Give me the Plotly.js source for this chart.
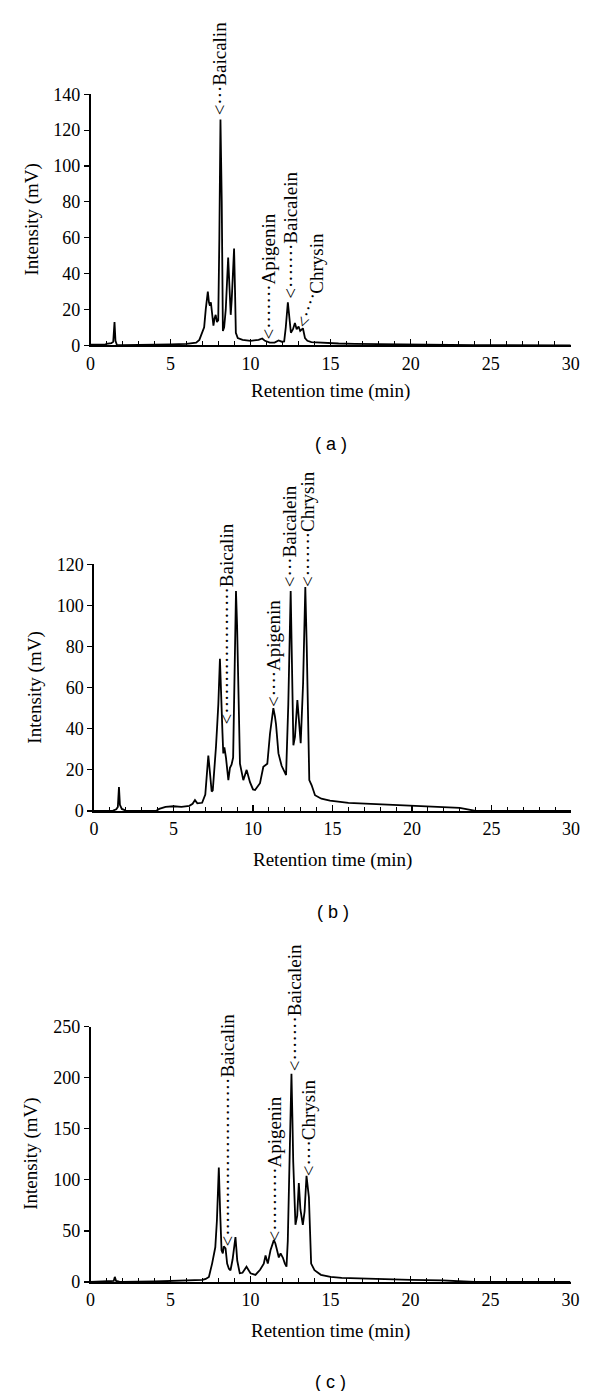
<!DOCTYPE html>
<html>
<head>
<meta charset="utf-8">
<script src="https://cdn.plot.ly/plotly-3.0.1.min.js"></script>
<style>html,body{margin:0;padding:0;background:#fff;}#chart{width:600px;height:1391px;}</style>
</head>
<body>
<div id="chart"></div>
<script>
// ---------- data (retention time in min, intensity in mV) ----------
const timeA = [0,0.9,1.0,1.3,1.42,1.5,1.56,1.65,2.0,4.0,5.0,6.0,6.6,6.8,7.0,7.1,7.2,7.33,7.4,7.46,7.52,7.6,7.68,7.75,7.82,7.9,7.98,8.05,8.12,8.2,8.27,8.35,8.45,8.6,8.68,8.76,8.82,8.9,8.97,9.03,9.08,9.2,9.5,10.0,10.5,10.73,10.9,11.2,11.5,11.75,11.95,12.1,12.2,12.33,12.42,12.52,12.65,12.77,12.88,13.0,13.1,13.27,13.4,13.55,13.8,14.5,15.5,16.5,18,20,23.5,24,30];
const valA  = [0.3,0.3,0.8,1.2,2.0,13,2.5,0.2,0.1,0.2,0.5,0.8,1.5,3,7,10,20,30,24,22,24,16,11,15,17,13,14,60,126,80,8,10,20,49,35,17,25,45,54,30,7,4,3,2.5,3,3.8,2.5,1.5,1.5,2.7,2,2.2,10,24,15,7,9,12.5,9,10.5,8,9.5,4,2.5,1.8,1.3,1.0,0.8,0.6,0.5,0.3,0.1,0];

const timeB = [0,1.2,1.4,1.5,1.57,1.63,1.75,2.0,3.9,4.1,4.5,5.0,5.5,6.0,6.2,6.35,6.5,6.8,7.0,7.1,7.19,7.3,7.4,7.47,7.58,7.67,7.75,7.82,7.92,8.0,8.08,8.13,8.2,8.3,8.45,8.55,8.65,8.75,8.82,8.93,9.0,9.07,9.18,9.39,9.6,9.81,10.0,10.13,10.3,10.44,10.65,10.9,11.07,11.18,11.28,11.38,11.45,11.6,11.8,12.08,12.22,12.37,12.46,12.54,12.64,12.79,12.91,13.0,13.15,13.29,13.38,13.44,13.54,13.69,13.9,14.3,14.84,16,18,20,22,23,23.5,24,30];
const valB  = [0,0.2,0.8,2,11.7,3,1,0.2,0,1,2,2.3,2.0,2.5,3.5,5.3,3.7,4,8,20,27,18,9.5,10,20,31,42,52,74,60,38,28,31,26,15,21,22.5,26,60,107,90,68,23,15,20,14,10.5,10.2,12,13.5,21.5,23,37.7,46,50,46,42,28,22,17.5,52,107,60,32,36,54,42,33,62,109,80,52,15,12.5,7.7,6,5,4,3.3,2.3,1.8,1.5,0.8,0,0];

const timeC = [0,1.3,1.45,1.52,1.6,1.8,2.0,4.0,5.0,6.0,7.0,7.2,7.4,7.6,7.8,7.9,8.02,8.1,8.13,8.19,8.27,8.33,8.44,8.54,8.65,8.75,8.88,8.96,9.06,9.12,9.17,9.33,9.5,9.75,9.9,10.0,10.31,10.6,10.83,10.94,11.08,11.25,11.46,11.55,11.63,11.77,11.88,12.02,12.15,12.25,12.33,12.4,12.56,12.62,12.67,12.81,12.92,13.02,13.12,13.27,13.38,13.5,13.58,13.65,13.79,14.0,14.4,15.0,15.7,18.1,20,22,23.3,24,30];
const valC  = [0,0.3,1,5,1,0.3,0,0.5,1,1.5,2,3,5,18,34,60,112,70,51,31,28,35,33,18,13,11.5,22,31,44,32,21,8.5,9,15,11,8.5,7,12,18,26,18,31,41,38,33,24,28,24,18,15,40,85,204,160,118,56,65,97,71,56,69,104,95,83,18,11.5,7,5,4,2.5,2,1.5,1,0,0];

// peak labels: [name, time, intensity at arrow tip, number of dots]
const labelsA = [["Baicalin",8.03,130.5,3],["Apigenin",11.1,5.6,7],["Baicalein",12.47,28,7]];
const labelsB = [["Baicalin",8.35,44.2,20],["Apigenin",11.28,52.5,4],["Baicalein",12.26,110.8,3],["Chrysin",13.38,110.8,7]];
const labelsC = [["Baicalin",8.53,39.2,25],["Apigenin",11.52,44,10],["Baicalein",12.77,210.6,7],["Chrysin",13.64,107.7,4]];

const xTicks = [0,5,10,15,20,25,30];
const yMaxA = 140, yMaxB = 120, yMaxC = 250;
const xTitle = "Retention time (min)";
const yTitle = "Intensity (mV)";
const captions = ["( a )","( b )","( c )"];

// ---------- layout helpers ----------
const W = 600, H = 1391;
const px = v => v / W;
const py = v => 1 - v / H;
const serif = "Liberation Serif";
const sans = "Liberation Sans";

const panels = [
  {t: timeA, v: valA, lab: labelsA, ymax: yMaxA, dt: 20, xl: 90.5, xr: 570.7, yt: 94.3, yb: 345.3, xtitleY: 391, capY: 444, ytitleX: 31.7},
  {t: timeB, v: valB, lab: labelsB, ymax: yMaxB, dt: 20, xl: 94, xr: 571, yt: 564.3, yb: 811, xtitleY: 860, capY: 912, ytitleX: 35},
  {t: timeC, v: valC, lab: labelsC, ymax: yMaxC, dt: 50, xl: 90.5, xr: 570.5, yt: 1026.7, yb: 1282, xtitleY: 1331, capY: 1382, ytitleX: 31.5}
];

const data = [];
const layout = {
  width: W, height: H,
  margin: {l: 0, r: 0, t: 0, b: 0},
  paper_bgcolor: "#fff", plot_bgcolor: "#fff",
  showlegend: false,
  annotations: [],
  font: {family: serif, color: "#000"}
};

panels.forEach((p, i) => {
  const n = i === 0 ? "" : String(i + 1);
  data.push({
    type: "scatter", mode: "lines",
    x: p.t, y: p.v,
    xaxis: "x" + n, yaxis: "y" + n,
    line: {color: "#000", width: 1.8},
    hoverinfo: "skip"
  });
  layout["xaxis" + n] = {
    domain: [px(p.xl), px(p.xr)], anchor: "y" + n,
    range: [0, 30], tickvals: xTicks, ticktext: xTicks.map(String),
    ticks: "inside", ticklen: 6, tickwidth: 1.2, tickcolor: "#000",
    minor: {dtick: 1, tick0: 0, ticks: "inside", ticklen: 4, tickwidth: 1.1, tickcolor: "#000"},
    showline: true, linecolor: "#000", linewidth: 1.6,
    showgrid: false, zeroline: false, fixedrange: true,
    tickfont: {family: serif, size: 18, color: "#000"},
    ticklabelstandoff: 1
  };
  const yv = [];
  for (let k = 0; k <= p.ymax; k += p.dt) yv.push(k);
  layout["yaxis" + n] = {
    domain: [py(p.yb), py(p.yt)], anchor: "x" + n,
    range: [0, p.ymax], tickvals: yv, ticktext: yv.map(String),
    ticks: "outside", ticklen: 5, tickwidth: 1.2, tickcolor: "#000",
    showline: true, linecolor: "#000", linewidth: 1.6,
    showgrid: false, zeroline: false, fixedrange: true,
    tickfont: {family: serif, size: 18, color: "#000"}
  };
  // axis titles and caption
  layout.annotations.push({
    xref: "paper", yref: "paper", x: px((p.xl + p.xr) / 2), y: py(p.xtitleY),
    xanchor: "center", yanchor: "middle", showarrow: false,
    text: xTitle, font: {family: serif, size: 19, color: "#000"}
  });
  layout.annotations.push({
    xref: "paper", yref: "paper", x: px(p.ytitleX), y: py((p.yt + p.yb) / 2),
    xanchor: "center", yanchor: "middle", showarrow: false, textangle: -90,
    text: yTitle, font: {family: serif, size: 19, color: "#000"}
  });
  layout.annotations.push({
    xref: "paper", yref: "paper", x: px((p.xl + p.xr) / 2), y: py(p.capY),
    xanchor: "center", yanchor: "middle", showarrow: false,
    text: captions[i], font: {family: sans, size: 18, color: "#000"}
  });
  // peak labels
  p.lab.forEach(l => {
    layout.annotations.push({
      xref: "x" + n, yref: "y" + n, x: l[1], y: l[2], yshift: -6,
      xanchor: "center", yanchor: "bottom", showarrow: false, textangle: -90,
      text: "&lt;" + "·".repeat(l[3]) + l[0],
      font: {family: serif, size: 19, color: "#000"}
    });
  });
});

// Chrysin label in panel (a): slanted dotted pointer + vertical text
layout.annotations.push({
  xref: "x", yref: "y", x: 14.1, y: 29.7, yshift: -4,
  xanchor: "center", yanchor: "bottom", showarrow: false, textangle: -90,
  text: "Chrysin", font: {family: serif, size: 19, color: "#000"}
});
layout.annotations.push({
  xref: "x", yref: "y", x: 13.56, y: 20.4, yshift: -2,
  xanchor: "center", yanchor: "middle", showarrow: false, textangle: -71,
  text: "&lt;····", font: {family: serif, size: 19, color: "#000"}
});

Plotly.newPlot("chart", data, layout, {staticPlot: true, displayModeBar: false});
</script>
</body>
</html>
